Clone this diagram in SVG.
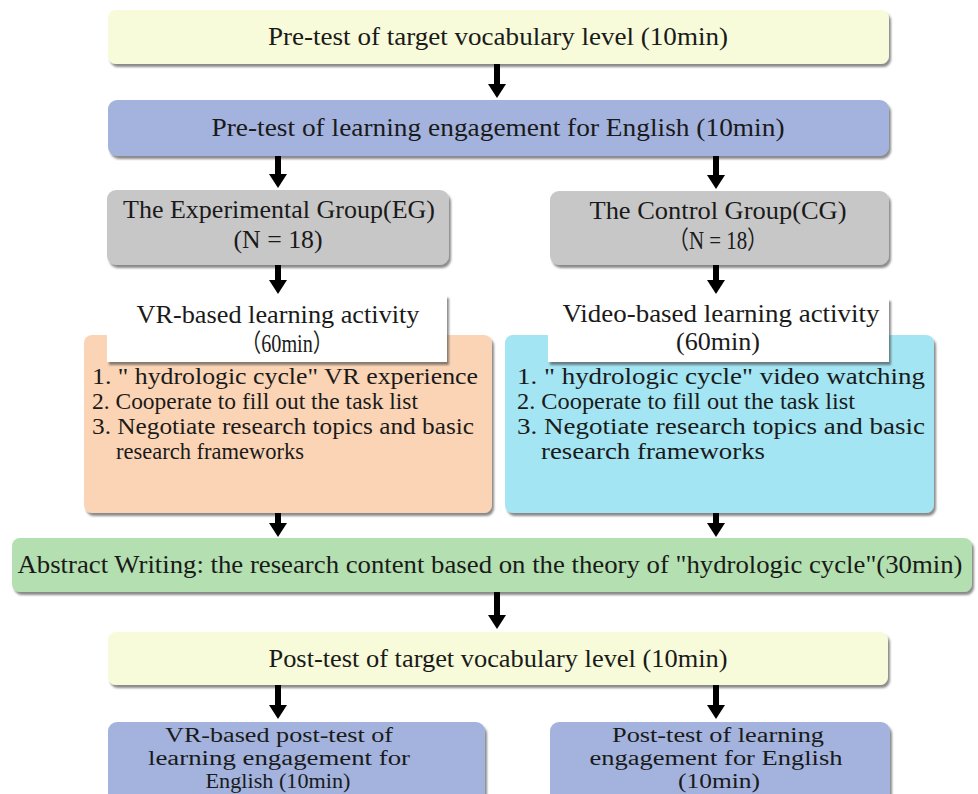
<svg xmlns="http://www.w3.org/2000/svg" width="978" height="794" viewBox="0 0 978 794">
<defs>
<filter id="sh" x="-5%" y="-20%" width="110%" height="150%">
<feDropShadow dx="2" dy="3" stdDeviation="1.2" flood-color="#3a3a3a" flood-opacity="0.6"/>
</filter>
<marker id="ah" markerWidth="18" markerHeight="20" viewBox="0 -10 16 20" refX="0" refY="0" orient="auto" markerUnits="userSpaceOnUse">
<path d="M0,-9 L14,0 L0,9 z" fill="#000"/>
</marker>
</defs>
<style>
text{font-family:"Liberation Serif","Times New Roman","Noto Sans CJK SC",serif;font-size:25px;fill:#1a1a1a}
.c{text-anchor:middle}
.s{font-size:23px}
.b{font-size:20px}
.g{font-size:26px}
.yel{fill:#f7fbd9}
.blu{fill:#a3b3dd}
.gry{fill:#c7c7c7}
.wht{fill:#ffffff}
.org{fill:#fbd4b5}
.cyn{fill:#a3e5f2}
.grn{fill:#b4dfb0}
.box{filter:url(#sh)}
.arr{stroke:#000;stroke-width:6;marker-end:url(#ah)}
</style>
<rect width="978" height="794" fill="#ffffff"/>

<g id="pre-vocab">
<rect class="box yel" x="108" y="10" width="781" height="54" rx="8"/>
<text class="c" x="498" y="45" textLength="460" lengthAdjust="spacingAndGlyphs">Pre-test of target vocabulary level (10min)</text>
</g>

<g id="pre-engagement">
<rect class="box blu" x="108" y="100" width="781" height="56" rx="9"/>
<text class="c" x="498" y="136" textLength="573" lengthAdjust="spacingAndGlyphs">Pre-test of learning engagement for English (10min)</text>
</g>

<g id="eg">
<rect class="box gry" x="107" y="190" width="342" height="75" rx="9"/>
<text class="c" x="279" y="218" textLength="312" lengthAdjust="spacingAndGlyphs">The Experimental Group(EG)</text>
<text class="c" x="278" y="248" textLength="89" lengthAdjust="spacingAndGlyphs">(N = 18)</text>
</g>

<g id="cg">
<rect class="box gry" x="550" y="191" width="339" height="74" rx="9"/>
<text class="c" x="718" y="219" textLength="257" lengthAdjust="spacingAndGlyphs">The Control Group(CG)</text>
<text class="c" x="718" y="249" textLength="100" lengthAdjust="spacingAndGlyphs">（N = 18）</text>
</g>

<g id="vr-activity">
<rect class="box org" x="84" y="335" width="408" height="178" rx="8"/>
<rect class="box wht" x="107" y="295" width="340" height="67"/>
<text class="c" x="278" y="323" textLength="283" lengthAdjust="spacingAndGlyphs">VR-based learning activity</text>
<text class="c" x="287" y="352" textLength="92" lengthAdjust="spacingAndGlyphs">（60min）</text>
<text class="s" x="92" y="384" textLength="386" lengthAdjust="spacingAndGlyphs">1. " hydrologic cycle"  VR experience</text>
<text class="s" x="92" y="409" textLength="326" lengthAdjust="spacingAndGlyphs">2. Cooperate to fill out the task list</text>
<text class="s" x="92" y="434" textLength="382" lengthAdjust="spacingAndGlyphs">3. Negotiate research topics and basic</text>
<text class="s" x="116" y="459" textLength="188" lengthAdjust="spacingAndGlyphs">research frameworks</text>
</g>

<g id="video-activity">
<rect class="box cyn" x="505" y="335" width="429" height="178" rx="8"/>
<rect class="box wht" x="548" y="298" width="341" height="64"/>
<text class="c" x="721" y="322" textLength="317" lengthAdjust="spacingAndGlyphs">Video-based learning activity</text>
<text class="c" x="718" y="350" textLength="84" lengthAdjust="spacingAndGlyphs">(60min)</text>
<text class="s" x="517" y="384" textLength="408" lengthAdjust="spacingAndGlyphs">1. " hydrologic cycle"  video watching</text>
<text class="s" x="517" y="409" textLength="338" lengthAdjust="spacingAndGlyphs">2. Cooperate to fill out the task list</text>
<text class="s" x="517" y="434" textLength="408" lengthAdjust="spacingAndGlyphs">3. Negotiate research topics and basic</text>
<text class="s" x="541" y="459" textLength="224" lengthAdjust="spacingAndGlyphs">research frameworks</text>
</g>

<g id="abstract-writing">
<rect class="box grn" x="12" y="538" width="960" height="54" rx="8"/>
<text class="g c" x="490" y="573" textLength="945" lengthAdjust="spacingAndGlyphs">Abstract Writing: the research content based on the theory of "hydrologic cycle"(30min)</text>
</g>

<g id="post-vocab">
<rect class="box yel" x="108" y="632" width="780" height="53" rx="8"/>
<text class="c" x="498" y="667" textLength="459" lengthAdjust="spacingAndGlyphs">Post-test of target vocabulary level (10min)</text>
</g>

<g id="vr-post-engagement">
<rect class="box blu" x="108" y="722" width="377" height="84" rx="9"/>
<text class="b c" x="279" y="742" textLength="228" lengthAdjust="spacingAndGlyphs">VR-based post-test of</text>
<text class="b c" x="279" y="765" textLength="262" lengthAdjust="spacingAndGlyphs">learning engagement for</text>
<text class="b c" x="278" y="788" textLength="145" lengthAdjust="spacingAndGlyphs">English (10min)</text>
</g>

<g id="post-engagement">
<rect class="box blu" x="550" y="722" width="340" height="84" rx="9"/>
<text class="b c" x="718" y="742" textLength="212" lengthAdjust="spacingAndGlyphs">Post-test of learning</text>
<text class="b c" x="716" y="765" textLength="253" lengthAdjust="spacingAndGlyphs">engagement for English</text>
<text class="b c" x="719" y="788" textLength="82" lengthAdjust="spacingAndGlyphs">(10min)</text>
</g>

<g id="connectors">
<line class="arr" x1="497" y1="64" x2="497" y2="84"/>
<line class="arr" x1="278" y1="156" x2="278" y2="174"/>
<line class="arr" x1="716" y1="156" x2="716" y2="175"/>
<line class="arr" x1="278" y1="265" x2="278" y2="280"/>
<line class="arr" x1="716" y1="265" x2="716" y2="280"/>
<line class="arr" x1="278" y1="513" x2="278" y2="523"/>
<line class="arr" x1="716" y1="513" x2="716" y2="523"/>
<line class="arr" x1="497" y1="592" x2="497" y2="615"/>
<line class="arr" x1="278" y1="685" x2="278" y2="705"/>
<line class="arr" x1="716" y1="685" x2="716" y2="705"/>
</g>
</svg>
